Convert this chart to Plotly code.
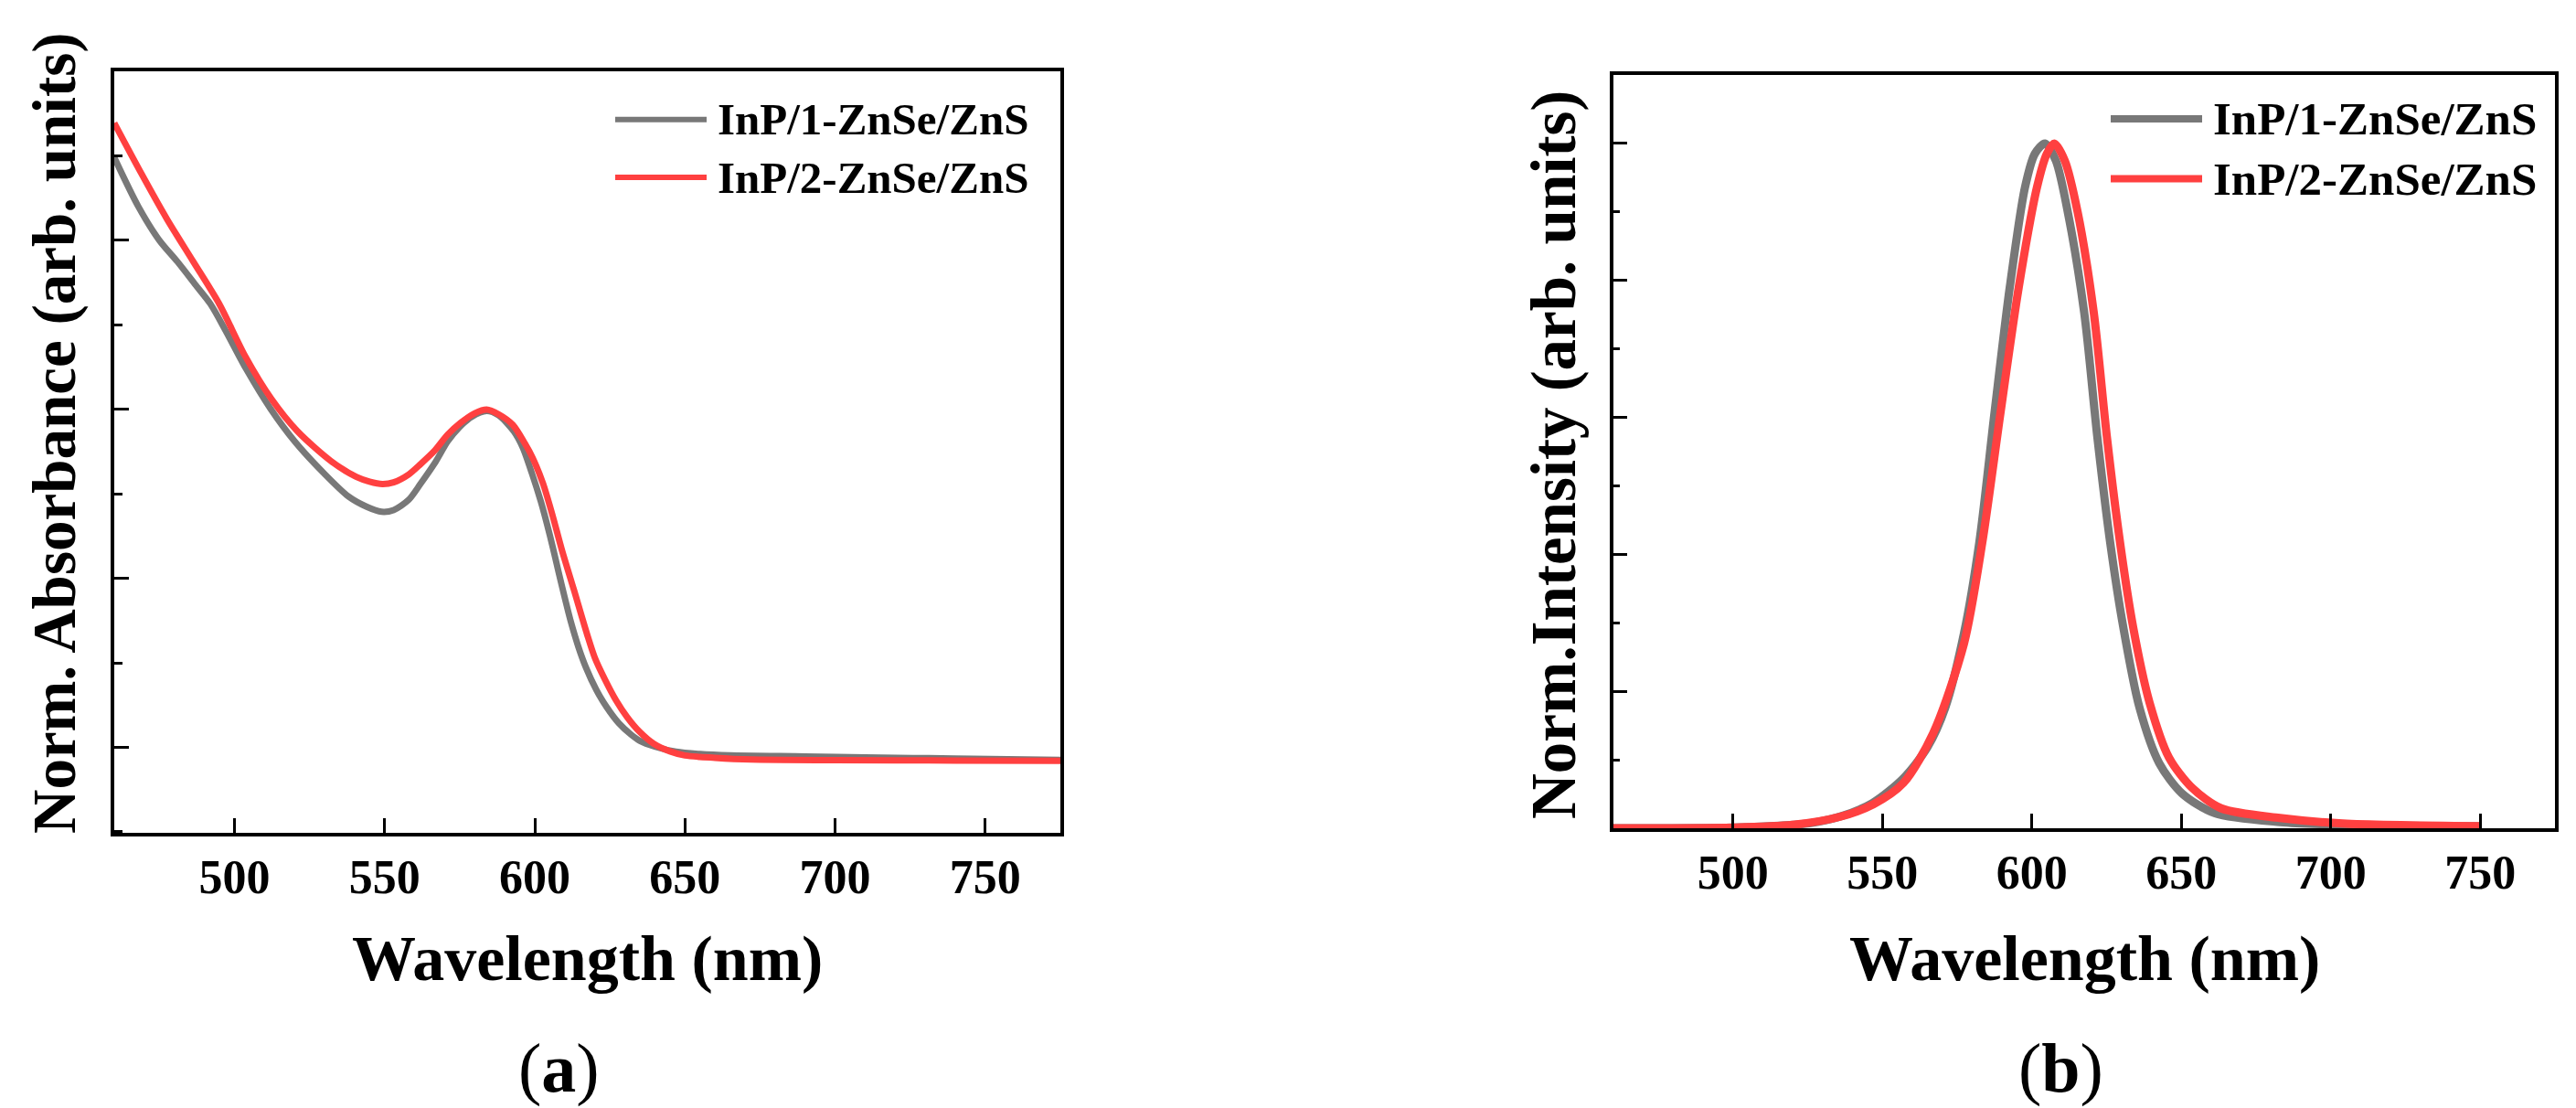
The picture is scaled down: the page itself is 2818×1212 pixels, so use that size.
import plotly.graph_objects as go

# ---------------- data ----------------
series_names = ["InP/1-ZnSe/ZnS", "InP/2-ZnSe/ZnS"]

# (a) absorbance
abs1_wl = [460, 468, 475, 481, 487, 492, 497, 504, 512, 520, 530, 538, 544, 549, 553, 558, 562, 567,
           571, 575, 579, 584, 588, 593, 596, 599, 602, 604, 606, 608, 610, 612, 614.5, 617, 620.5, 624,
           628, 632, 635, 640, 647, 655, 665, 690, 710, 740, 775]
abs1_val = [1.745, 1.60, 1.50, 1.437, 1.369, 1.312, 1.234, 1.118, 1.002, 0.906, 0.809, 0.742, 0.712, 0.697,
            0.702, 0.732, 0.780, 0.845, 0.905, 0.948, 0.978, 0.995, 0.982, 0.935, 0.887, 0.812, 0.728,
            0.663, 0.592, 0.516, 0.442, 0.372, 0.298, 0.237, 0.170, 0.118, 0.071, 0.038, 0.019, 0.002,
            -0.013, -0.020, -0.024, -0.027, -0.030, -0.033, -0.037]

abs2_wl = [460, 469, 477.6, 486.3, 495, 503.6, 512.3, 521, 532, 540.6, 545, 549.3, 553, 558, 562, 566.6,
           571, 575.3, 580, 584, 588, 592.7, 596.7, 599.2, 602.7, 605.8, 609, 613, 617.4, 620, 623.4,
           627, 630.8, 635, 639.7, 645, 650, 660, 672, 700, 740, 775]
abs2_val = [1.847, 1.698, 1.562, 1.437, 1.311, 1.157, 1.031, 0.935, 0.848, 0.800, 0.786, 0.779, 0.784,
            0.807, 0.838, 0.877, 0.925, 0.960, 0.988, 0.999, 0.985, 0.954, 0.899, 0.858, 0.782, 0.690,
            0.585, 0.467, 0.335, 0.265, 0.200, 0.140, 0.089, 0.045, 0.010, -0.012, -0.024, -0.031,
            -0.036, -0.038, -0.039, -0.040]

# (b) photoluminescence
pl1_wl = [460, 500, 520, 526, 536.5, 546.7, 557, 565, 571, 577.3, 582.4, 587.5, 592.6, 597.7, 601, 604.4,
          608, 612, 617.5, 621.9, 626.2, 630.6, 636, 642.6, 650.2, 661.2, 683, 704, 750]
pl1_val = [0.0, 0.001, 0.005, 0.0075, 0.018, 0.037, 0.073, 0.118, 0.176, 0.285, 0.417, 0.607, 0.79, 0.936,
           0.985, 1.0, 0.975, 0.9, 0.753, 0.571, 0.417, 0.293, 0.176, 0.095, 0.051, 0.022, 0.009, 0.005, 0.003]

pl2_wl = [460, 500, 520, 536, 547, 557, 567, 577.3, 583.4, 589.5, 595.6, 601.7, 605, 607.5, 611, 615.3,
          620.7, 625.1, 629.5, 633.9, 639.4, 645.9, 653.6, 663.4, 683, 704, 750]
pl2_val = [0.0, 0.001, 0.005, 0.017, 0.035, 0.066, 0.139, 0.27, 0.417, 0.607, 0.79, 0.936, 0.985, 1.0,
           0.975, 0.9, 0.753, 0.571, 0.417, 0.293, 0.183, 0.103, 0.059, 0.029, 0.015, 0.007, 0.003]

x_ticks = [500, 550, 600, 650, 700, 750]

# ---------------- styling ----------------
W, H = 2818, 1212
GRAY = "#787878"
RED = "#FF4040"
FONT = "Liberation Serif, Times New Roman, serif"


def px(x):
    return x / W


def py(y):
    return 1 - y / H


fig = go.Figure()
fig.add_trace(go.Scatter(x=abs1_wl, y=abs1_val, mode="lines", name=series_names[0],
                         line=dict(color=GRAY, width=7, shape="spline", smoothing=0.8),
                         xaxis="x", yaxis="y", showlegend=False))
fig.add_trace(go.Scatter(x=abs2_wl, y=abs2_val, mode="lines", name=series_names[1],
                         line=dict(color=RED, width=7, shape="spline", smoothing=0.8),
                         xaxis="x", yaxis="y", showlegend=False))
fig.add_trace(go.Scatter(x=pl1_wl, y=pl1_val, mode="lines", name=series_names[0],
                         line=dict(color=GRAY, width=9, shape="spline", smoothing=0.8),
                         xaxis="x2", yaxis="y2", showlegend=False))
fig.add_trace(go.Scatter(x=pl2_wl, y=pl2_val, mode="lines", name=series_names[1],
                         line=dict(color=RED, width=9, shape="spline", smoothing=0.8),
                         xaxis="x2", yaxis="y2", showlegend=False))

xcommon = dict(range=[460, 775], tickvals=x_ticks, ticks="inside", ticklen=16, tickwidth=3,
               tickcolor="black", showline=True, linewidth=4, linecolor="black", mirror=True,
               showgrid=False, zeroline=False,
               tickfont=dict(family=FONT, size=52, color="black", weight="bold"))
ycommon = dict(ticks="inside", tickwidth=3, tickcolor="black", showline=True, linewidth=4,
               linecolor="black", mirror=True, showgrid=False, zeroline=False, showticklabels=False)

fig.update_layout(
    width=W, height=H, margin=dict(l=0, r=0, t=0, b=0),
    paper_bgcolor="white", plot_bgcolor="white", showlegend=False,
    xaxis=dict(domain=[px(117), px(1152)], anchor="y", **xcommon),
    yaxis=dict(domain=[py(903), py(70)], anchor="x", range=[-0.253, 2.0], tick0=0, dtick=0.5,
               ticklen=16, minor=dict(dtick=0.25, ticks="inside", ticklen=9, tickwidth=3,
                                      tickcolor="black", showgrid=False), **ycommon),
    xaxis2=dict(domain=[px(1757), px(2787)], anchor="y2", **xcommon),
    yaxis2=dict(domain=[py(898), py(74)], anchor="x2", range=[0, 1.1], tick0=0, dtick=0.2,
                ticklen=15, minor=dict(dtick=0.1, ticks="inside", ticklen=7, tickwidth=3,
                                       tickcolor="black", showgrid=False), **ycommon),
)

ann = []
# axis titles
for xc in (634.5, 2272):
    ann.append(dict(x=px(xc), y=py(1040), xref="paper", yref="paper", text="<b>Wavelength (nm)</b>",
                    showarrow=False, xanchor="center", yanchor="middle",
                    font=dict(family=FONT, size=70, color="black")))
ann.append(dict(x=px(51), y=py(466), xref="paper", yref="paper",
                text="<b>Norm. Absorbance (arb. units)</b>", textangle=-90, showarrow=False,
                xanchor="center", yanchor="middle", font=dict(family=FONT, size=67, color="black")))
ann.append(dict(x=px(1692), y=py(490), xref="paper", yref="paper",
                text="<b>Norm.Intensity (arb. units)</b>", textangle=-90, showarrow=False,
                xanchor="center", yanchor="middle", font=dict(family=FONT, size=69, color="black")))
# panel labels
ann.append(dict(x=px(603), y=py(1160), xref="paper", yref="paper", text="(<b>a</b>)",
                showarrow=False, xanchor="center", yanchor="middle",
                font=dict(family=FONT, size=76, color="black")))
ann.append(dict(x=px(2246), y=py(1160), xref="paper", yref="paper", text="(<b>b</b>)",
                showarrow=False, xanchor="center", yanchor="middle",
                font=dict(family=FONT, size=76, color="black")))

# custom legends
shapes = []
legends = [
    # (line x0, line x1, text x, rows y, line width, font size)
    (665, 765, 775, (122.7, 186), 6, 49),
    (2301, 2401, 2411, (122, 187.5), 8, 51),
]
for x0, x1, xt, rows, lw, fs in legends:
    for name, color, yy in zip(series_names, (GRAY, RED), rows):
        shapes.append(dict(type="line", xref="paper", yref="paper", x0=px(x0), x1=px(x1),
                           y0=py(yy), y1=py(yy), line=dict(color=color, width=lw)))
        ann.append(dict(x=px(xt), y=py(yy), xref="paper", yref="paper", text="<b>%s</b>" % name,
                        showarrow=False, xanchor="left", yanchor="middle",
                        font=dict(family=FONT, size=fs, color="black")))

fig.update_layout(annotations=ann, shapes=shapes)
fig.write_html("out.html")
